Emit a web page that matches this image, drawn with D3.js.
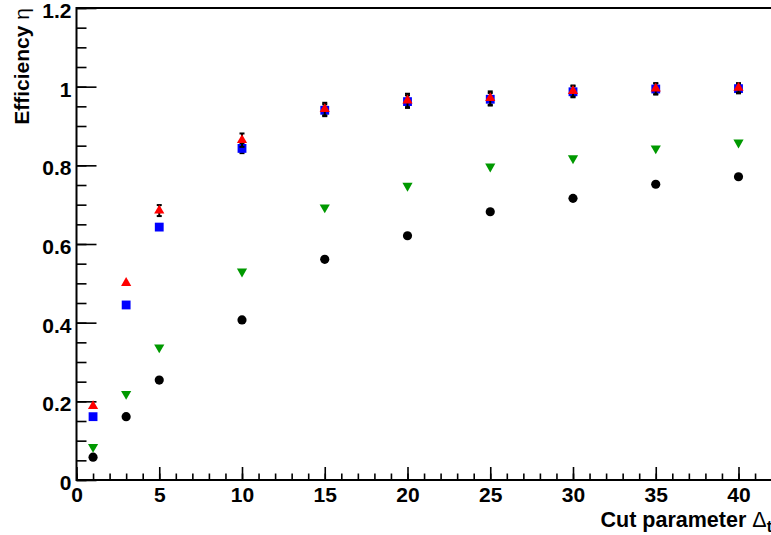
<!DOCTYPE html>
<html>
<head>
<meta charset="utf-8">
<script src="https://cdn.jsdelivr.net/npm/d3@7"></script>
<style>
  body { margin: 0; background: #fff; }
  text { font-family: "Liberation Sans", Arial, Helvetica, sans-serif; font-weight: bold; }
</style>
</head>
<body>
<script>
'use strict';

// cut parameter values (x) and efficiencies
const cutValues = [1, 3, 5, 10, 15, 20, 25, 30, 35, 40]
const effBlack = [0.058, 0.161, 0.254, 0.407, 0.561, 0.621, 0.682, 0.716, 0.752, 0.771]
const effGreen = [0.084, 0.219, 0.337, 0.530, 0.693, 0.748, 0.797, 0.818, 0.843, 0.858]
const effBlue = [0.161, 0.445, 0.643, 0.843, 0.940, 0.962, 0.968, 0.987, 0.994, 0.995]
const errBlue = [0.004, 0.005, 0.007, 0.012, 0.015, 0.016, 0.016, 0.014, 0.014, 0.012]
const effRed = [0.188, 0.501, 0.685, 0.864, 0.943, 0.965, 0.971, 0.989, 0.995, 0.997]
const errRed = [0.005, 0.006, 0.014, 0.017, 0.016, 0.017, 0.017, 0.014, 0.014, 0.012]

const xMajorTicks = [0, 5, 10, 15, 20, 25, 30, 35, 40]
const yMajorTicks = [0, 0.2, 0.4, 0.6, 0.8, 1, 1.2]

const m = {
  width: 771,
  height: 535,
  left: 76.5,
  top: 8,
  bottom: 480,
  xMax: 43,
  pxPerUnit: 16.55
}

let svg = d3.select('body')
  .append('svg')
  .attr('width', m.width)
  .attr('height', m.height)

let funcs = drawAxes()
plotData(funcs)
makeLabels()

// frame, ticks and tick labels (ROOT style: ticks pointing inward)
function drawAxes() {
  let xScale = d3.scaleLinear()
    .domain([0, m.xMax])
    .range([m.left, m.left + m.xMax * m.pxPerUnit])

  let yScale = d3.scaleLinear()
    .domain([0, 1.2])
    .range([m.bottom, m.top])

  // minor x ticks every 1
  svg.append('g')
    .attr('transform', 'translate(0, ' + m.bottom + ')')
    .call(d3.axisBottom(xScale).tickValues(d3.range(0, m.xMax + 1, 1)).tickSize(-6.5).tickFormat(''))
    .call(g => g.select('.domain').remove())

  // major x ticks with labels
  svg.append('g')
    .attr('transform', 'translate(0, ' + m.bottom + ')')
    .call(d3.axisBottom(xScale).tickValues(xMajorTicks).tickSize(-13).tickPadding(7.5).tickFormat(d3.format('d')))
    .call(g => g.select('.domain').remove())
    .call(g => g.selectAll('text').style('font-size', '21px').attr('fill', '#000'))

  // minor y ticks every 0.05
  svg.append('g')
    .attr('transform', 'translate(' + m.left + ', 0)')
    .call(d3.axisLeft(yScale).tickValues(d3.range(0, 1.2001, 0.05)).tickSize(-10).tickFormat(''))
    .call(g => g.select('.domain').remove())

  // major y ticks with labels
  svg.append('g')
    .attr('transform', 'translate(' + m.left + ', 0)')
    .call(d3.axisLeft(yScale).tickValues(yMajorTicks).tickSize(-20).tickPadding(5).tickFormat(d => d3.format('')(+d.toFixed(1))))
    .call(g => g.select('.domain').remove())
    .call(g => g.selectAll('text').style('font-size', '21px').attr('dy', '0.45em').attr('fill', '#000'))

  svg.selectAll('.tick line').attr('stroke', '#000').attr('stroke-width', 1.6)

  // frame
  svg.append('rect')
    .attr('x', xScale(0))
    .attr('y', yScale(1.2))
    .attr('width', xScale(m.xMax) - xScale(0))
    .attr('height', yScale(0) - yScale(1.2))
    .attr('fill', 'none')
    .attr('stroke', '#000')
    .attr('stroke-width', 2)

  return { xScale: xScale, yScale: yScale }
}

// axis titles
function makeLabels() {
  let xt = svg.append('text')
    .attr('x', 772)
    .attr('y', 526.5)
    .attr('text-anchor', 'end')
    .style('font-size', '21.5px')
  xt.append('tspan').text('Cut parameter ')
  xt.append('tspan').style('font-weight', 'normal').text('Δ')
  xt.append('tspan').attr('dy', 5).style('font-size', '16px').text('t')

  let yt = svg.append('text')
    .attr('transform', 'translate(28.5, 8)rotate(-90)')
    .attr('text-anchor', 'end')
    .style('font-size', '21px')
  yt.append('tspan').text('Efficiency ')
  yt.append('tspan').style('font-weight', 'normal').text('η')
}

function plotSeries(map, values, errors, symbolType, size, color, rotate) {
  let rows = cutValues.map((c, i) => ({ x: c, y: values[i], e: errors ? errors[i] : 0 }))

  if (errors) {
    let g = svg.append('g').attr('stroke', '#000').attr('stroke-width', 2)
    g.selectAll('line.bar')
      .data(rows)
      .enter()
      .append('line')
        .attr('x1', d => map.xScale(d.x))
        .attr('x2', d => map.xScale(d.x))
        .attr('y1', d => map.yScale(d.y - d.e))
        .attr('y2', d => map.yScale(d.y + d.e))
    ;[-1, 1].forEach(s => {
      g.selectAll('line.cap' + s)
        .data(rows.filter(d => d.e > 0.01))
        .enter()
        .append('line')
          .attr('x1', d => map.xScale(d.x) - 2.5)
          .attr('x2', d => map.xScale(d.x) + 2.5)
          .attr('y1', d => map.yScale(d.y + s * d.e))
          .attr('y2', d => map.yScale(d.y + s * d.e))
    })
  }

  svg.append('g')
    .selectAll('path')
    .data(rows)
    .enter()
    .append('path')
      .attr('d', d3.symbol().type(symbolType).size(size))
      .attr('transform', d => 'translate(' + map.xScale(d.x) + ',' + map.yScale(d.y) + ')' + (rotate ? 'rotate(180)' : ''))
      .style('fill', color)
}

function plotData(map) {
  plotSeries(map, effBlack, null, d3.symbolCircle, 66, '#000000', false)
  plotSeries(map, effGreen, null, d3.symbolTriangle, 45, '#009900', true)
  plotSeries(map, effBlue, errBlue, d3.symbolSquare, 78, '#0000ff', false)
  plotSeries(map, effRed, errRed, d3.symbolTriangle, 45, '#ff0000', false)
}
</script>
</body>
</html>
